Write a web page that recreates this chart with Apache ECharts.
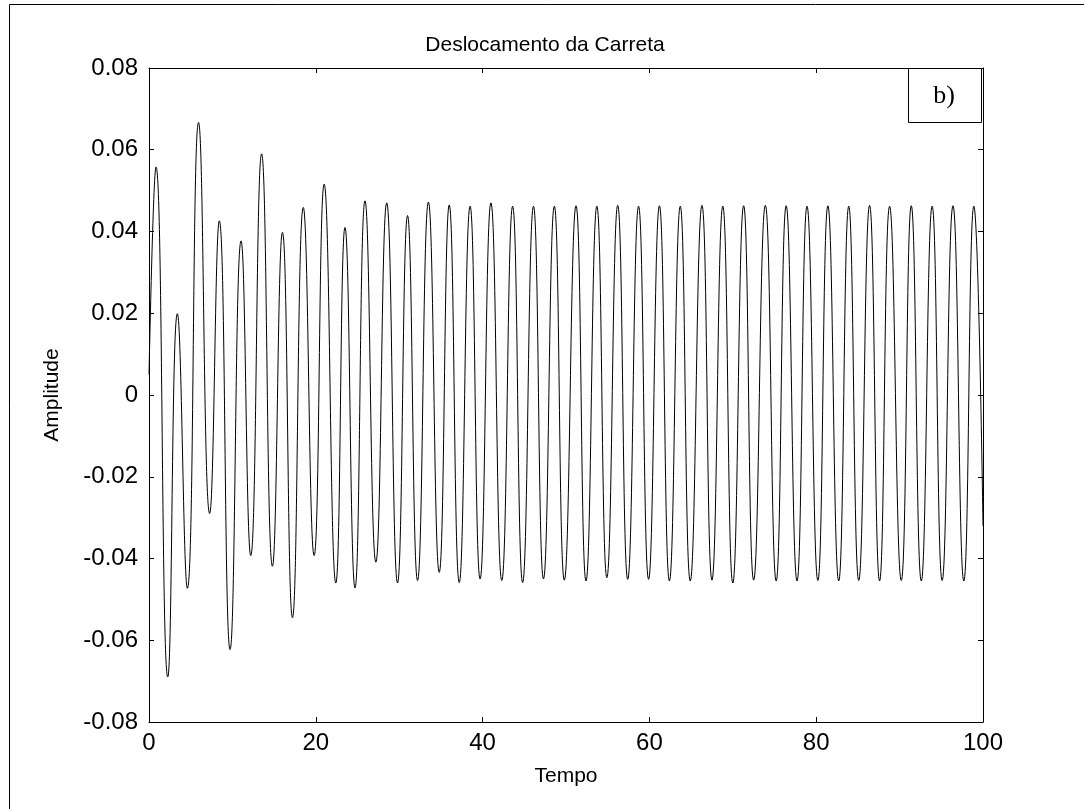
<!DOCTYPE html>
<html>
<head>
<meta charset="utf-8">
<script src="https://cdn.jsdelivr.net/npm/echarts@6/dist/echarts.min.js"></script>
<style>
html,body{margin:0;padding:0;background:#fff;}
#chart{width:1084px;height:809px;}
</style>
</head>
<body>
<div id="chart"></div>
<script>
// Extrema (time, amplitude), in order
const tempo = [
  0, 0.84, 2.25, 3.4, 4.6, 5.94, 7.27, 8.43, 9.72, 11.04,
  12.2, 13.5, 14.8, 16.0, 17.2, 18.5, 19.8, 21.0, 22.4, 23.5,
  24.7, 25.9, 27.2, 28.5, 29.8, 31.0, 32.2, 33.5, 34.8, 36.0,
  37.2, 38.5, 39.7, 41.0, 42.3, 43.6, 44.8, 46.1, 47.3, 48.6,
  49.8, 51.2, 52.4, 53.7, 54.9, 56.2, 57.4, 58.7, 59.9, 61.2,
  62.4, 63.7, 64.9, 66.3, 67.5, 68.8, 70.0, 71.3, 72.5, 73.9,
  75.2, 76.4, 77.7, 78.9, 80.2, 81.4, 82.7, 83.9, 85.1, 86.4,
  87.6, 88.8, 90.2, 91.4, 92.6, 93.9, 95.1, 96.4, 97.7, 98.9,
  100
];
const amplitude = [
  0.005, 0.0558, -0.069, 0.0199, -0.0473, 0.0667, -0.029, 0.0426, -0.0623, 0.0377,
  -0.0393, 0.059, -0.0419, 0.0398, -0.0545, 0.0459, -0.0393, 0.0516, -0.046, 0.041,
  -0.0472, 0.0475, -0.0409, 0.047, -0.046, 0.0439, -0.0454, 0.0472, -0.0434, 0.0465,
  -0.0459, 0.0462, -0.045, 0.047, -0.0454, 0.0462, -0.0459, 0.0462, -0.045, 0.0462,
  -0.0453, 0.0463, -0.0455, 0.0462, -0.0447, 0.0464, -0.0451, 0.0462, -0.0451, 0.0463,
  -0.0455, 0.0462, -0.0455, 0.0464, -0.0453, 0.0462, -0.046, 0.0463, -0.0453, 0.0464,
  -0.0455, 0.0463, -0.0455, 0.0462, -0.0454, 0.0463, -0.0455, 0.0462, -0.0454, 0.0464,
  -0.0455, 0.0462, -0.0454, 0.0463, -0.0455, 0.0462, -0.0454, 0.0463, -0.0455, 0.0462,
  -0.032
];
const xTicks = [0, 20, 40, 60, 80, 100];
const yTicks = [-0.08, -0.06, -0.04, -0.02, 0, 0.02, 0.04, 0.06, 0.08];
const titulo = 'Deslocamento da Carreta';
const rotuloX = 'Tempo';
const rotuloY = 'Amplitude';
const marcador = 'b)';

const points = tempo.map((t, i) => [t, amplitude[i]]);
const FONT = '"Liberation Sans", Arial, Helvetica, sans-serif';

const chart = echarts.init(document.getElementById('chart'), null, {renderer: 'canvas'});

const axisCommon = {
  axisLine: {show: true, onZero: false, lineStyle: {color: '#000', width: 1}},
  axisTick: {show: true, inside: true, length: 5, lineStyle: {color: '#000', width: 1}},
  splitLine: {show: false}
};

chart.setOption({
  animation: false,
  backgroundColor: '#fff',
  title: {
    text: titulo,
    left: 540,
    top: 30,
    textAlign: 'center',
    textStyle: {fontFamily: FONT, fontSize: 21, fontWeight: 'normal', color: '#000'}
  },
  grid: {left: 149, right: 101, top: 68, bottom: 87, containLabel: false},
  xAxis: [
    Object.assign({
      type: 'value', min: xTicks[0], max: xTicks[xTicks.length - 1],
      interval: xTicks[1] - xTicks[0], position: 'bottom',
      name: rotuloX, nameLocation: 'middle', nameGap: 44,
      nameTextStyle: {fontFamily: FONT, fontSize: 21, color: '#000'},
      axisLabel: {fontFamily: FONT, fontSize: 24, color: '#000', margin: 9}
    }, axisCommon),
    Object.assign({
      type: 'value', min: xTicks[0], max: xTicks[xTicks.length - 1],
      interval: xTicks[1] - xTicks[0], position: 'top',
      axisLabel: {show: false}
    }, axisCommon)
  ],
  yAxis: [
    Object.assign({
      type: 'value', min: yTicks[0], max: yTicks[yTicks.length - 1],
      interval: 0.02, position: 'left',
      name: rotuloY, nameLocation: 'middle', nameGap: 86,
      nameTextStyle: {fontFamily: FONT, fontSize: 21, color: '#000'},
      axisLabel: {fontFamily: FONT, fontSize: 24, color: '#000', margin: 11,
        formatter: v => { const r = Math.round(v * 100) / 100; return r === 0 ? '0' : String(r); }}
    }, axisCommon),
    Object.assign({
      type: 'value', min: yTicks[0], max: yTicks[yTicks.length - 1],
      interval: 0.02, position: 'right',
      axisLabel: {show: false}
    }, axisCommon)
  ],
  series: [{
    type: 'line',
    data: points,
    xAxisIndex: 0,
    yAxisIndex: 0,
    showSymbol: false,
    smooth: 0.5,
    lineStyle: {color: '#000', width: 1},
    z: 2
  }],
  graphic: [
    {type: 'line', shape: {x1: 9.5, y1: 4.5, x2: 9.5, y2: 809}, style: {stroke: '#000', lineWidth: 1}, silent: true},
    {type: 'line', shape: {x1: 9.5, y1: 4.5, x2: 1084, y2: 4.5}, style: {stroke: '#000', lineWidth: 1}, silent: true},
    {type: 'rect', shape: {x: 908.5, y: 68.5, width: 73, height: 54}, style: {fill: '#fff', stroke: '#000', lineWidth: 1}, z: 10},
    {type: 'text', x: 944, y: 96, style: {text: marcador, fontFamily: '"Liberation Serif", "Times New Roman", serif', fontSize: 26, fill: '#000', textAlign: 'center', textVerticalAlign: 'middle'}, z: 11}
  ]
});
</script>
</body>
</html>
